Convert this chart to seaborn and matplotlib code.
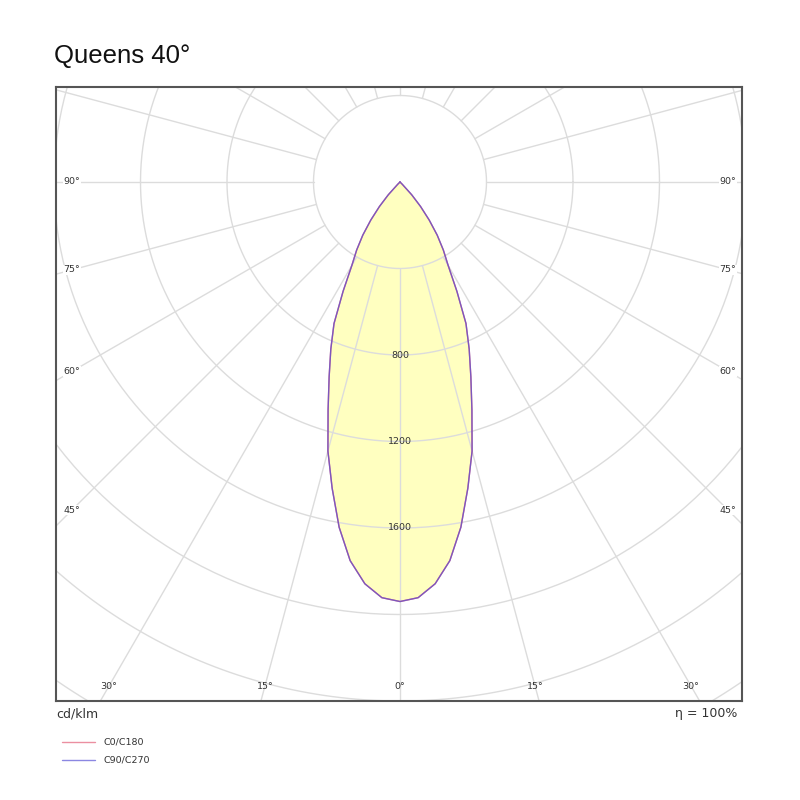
import numpy as np
import pandas as pd
import seaborn as sns
from matplotlib import pyplot as plt

# luminous intensity (cd/klm) vs angle from nadir
angles = [0, 2.5, 5, 7.5, 10, 12.5, 15, 17.5, 20, 22.5, 25, 27.5, 30,
          32.5, 35, 37.5, 40, 42.5, 45, 47.5]
c0_c180 = [1940, 1924, 1865, 1766, 1621, 1450, 1288, 1106, 958, 836, 722, 570, 445,
           373, 300, 222, 148, 80, 15, 0]
c90_c270 = [1940, 1924, 1865, 1766, 1621, 1450, 1288, 1106, 958, 836, 722, 570, 445,
            373, 300, 222, 148, 80, 15, 0]

ring_values = [400, 800, 1200, 1600, 2000, 2400, 2800]
ring_labels = [800, 1200, 1600]
side_angles = [90, 75, 60, 45]
bottom_angles = [30, 15, 0, 15, 30]

title = "Queens 40\u00b0"
series_names = ["C0/C180", "C90/C270"]
series_colors = ["#e3607a", "#5a55d6"]

px = 400 / 86.5  # cd per pixel


def to_xy(theta_deg, r):
    t = np.radians(np.asarray(theta_deg, dtype=float))
    r = np.asarray(r, dtype=float)
    return r * np.sin(t), -r * np.cos(t)


rows = []
for name, vals in zip(series_names, [c0_c180, c90_c270]):
    full_ang = [-a for a in angles[::-1]] + angles[1:]
    full_val = vals[::-1] + vals[1:]
    x, y = to_xy(full_ang, full_val)
    for xi, yi in zip(x, y):
        rows.append({"series": name, "x": xi, "y": yi})
df = pd.DataFrame(rows)

sns.set_style("white")
plt.rcParams['font.family'] = ['DejaVu Sans']

fig = plt.figure(figsize=(8, 8), dpi=100)
ax = fig.add_axes([56 / 800, 1 - 701 / 800, 686 / 800, 614 / 800])
ax.set_xlim(-344 * px, 342 * px)
ax.set_ylim(-519 * px, 95 * px)

grid_c = "#dcdcdc"
# rings
t = np.linspace(0, 2 * np.pi, 400)
for r in ring_values:
    ax.plot(r * np.cos(t), r * np.sin(t), color=grid_c, lw=1, zorder=2)
# radial lines every 15 degrees, starting at the inner ring
for a in range(0, 360, 15):
    x, y = to_xy([a, a], [ring_values[0], 5000])
    ax.plot(x, y, color=grid_c, lw=1, zorder=2)

# filled curve
d0 = df[df.series == series_names[0]]
ax.fill(d0["x"], d0["y"], color="#ffffc0", zorder=1, lw=0)

sns.lineplot(data=df, x="x", y="y", hue="series", palette=series_colors,
             sort=False, estimator=None, lw=1.0, ax=ax, zorder=4, legend=False)
ax.lines[-1].set_alpha(0.75)

lab_kw = dict(fontsize=6.8, color="#333333", ha="center", va="center")
# ring labels
for v in ring_labels:
    ax.text(0, -v, str(v), zorder=5, **lab_kw)
# side angle labels
xl = 328 * px
for a in side_angles:
    yl = -xl / np.tan(np.radians(a)) if a != 90 else 0
    for s in (-1, 1):
        ax.text(s * xl, yl, f"{a}\u00b0", zorder=5,
                bbox=dict(fc="white", ec="none", pad=0.5), **lab_kw)
# bottom angle labels
yb = -504 * px
for a, s in zip(bottom_angles, [-1, -1, 1, 1, 1]):
    xb = s * (-yb) * np.tan(np.radians(a))
    ax.text(xb, yb, f"{a}\u00b0", zorder=5, **lab_kw)

ax.set_xticks([])
ax.set_yticks([])
ax.set_xlabel("")
ax.set_ylabel("")
for sp in ax.spines.values():
    sp.set_color("#555555")
    sp.set_linewidth(1.5)
    sp.set_visible(True)

fig.text(54 / 800, 1 - 56 / 800, title, fontsize=18.5, family="Liberation Sans",
         ha="left", va="center", color="#111111")
fig.text(56 / 800, 1 - 714 / 800, "cd/klm", fontsize=9, color="#333333",
         ha="left", va="center")
fig.text(737 / 800, 1 - 714 / 800, "\u03b7 = 100%", fontsize=9, color="#333333",
         ha="right", va="center")

# legend
for i, (name, col) in enumerate(zip(series_names, series_colors)):
    yy = 1 - (742 + 18 * i) / 800
    fig.add_artist(plt.Line2D([62 / 800, 95 / 800], [yy, yy], color=col, lw=1, alpha=0.7))
    fig.text(103 / 800, yy, name, fontsize=6.8, color="#333333", ha="left", va="center")

fig.savefig("out.png", dpi=100)
